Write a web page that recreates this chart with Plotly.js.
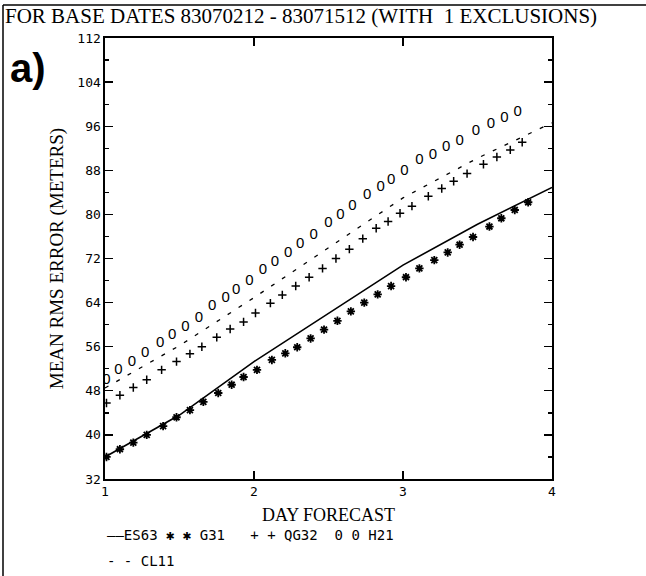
<!DOCTYPE html>
<html><head><meta charset="utf-8">
<script src="https://cdn.plot.ly/plotly-3.0.1.min.js"></script>
<style>body{margin:0;background:#fff}</style>
</head><body><div id="chart" style="width:646px;height:576px"></div>
<script>
const titleText = 'FOR BASE DATES 83070212 - 83071512 (WITH\u00a0 1 EXCLUSIONS)';
const panelLabel = 'a)';
const xTitle = 'DAY FORECAST';
const yTitle = 'MEAN RMS ERROR (METERS)';
const xTicks = [1, 2, 3, 4];
const yTicks = [32, 40, 48, 56, 64, 72, 80, 88, 96, 104, 112];

// ES63 (solid line)
const es63Days = [1, 1.5, 2, 2.5, 3, 3.5, 4];
const es63Err  = [36.0, 43.6, 53.3, 62.0, 70.8, 78.2, 84.9];
// CL11 (dashed line)
const cl11Days = [1, 1.5, 2, 2.5, 3, 3.5, 4];
const cl11Err  = [48.5, 56.2, 64.9, 74.0, 83.0, 90.2, 96.6];
// G31 (asterisk characters)
const g31Days = [1.01,1.10,1.19,1.28,1.39,1.48,1.57,1.66,1.76,1.85,1.93,2.02,2.12,2.21,2.29,2.38,2.47,2.56,2.65,2.74,2.83,2.92,3.02,3.11,3.21,3.30,3.38,3.47,3.58,3.66,3.75,3.84];
const g31Err  = [36.0,37.4,38.6,40.0,41.6,43.2,44.5,46.0,47.6,49.1,50.5,51.8,53.6,54.8,55.9,57.5,59.1,60.7,62.4,64.0,65.5,67.0,68.6,70.2,71.7,73.1,74.5,75.9,77.8,79.3,80.8,82.2];
// QG32 (plus characters)
const qg32Days = [1.01,1.10,1.19,1.28,1.38,1.48,1.57,1.65,1.75,1.84,1.93,2.01,2.11,2.19,2.28,2.37,2.46,2.55,2.64,2.73,2.82,2.90,2.98,3.06,3.17,3.26,3.34,3.43,3.54,3.63,3.72,3.80];
const qg32Err  = [45.8,47.2,48.6,50.0,51.8,53.3,54.7,56.0,57.7,59.2,60.5,62.1,63.9,65.4,67.0,68.6,70.2,72.0,73.7,75.6,77.5,78.7,80.2,81.5,83.3,84.7,86.0,87.4,89.1,90.4,91.7,93.1];
// H21 (zero characters)
const h21Days = [1.01,1.09,1.18,1.27,1.37,1.45,1.54,1.63,1.72,1.81,1.88,1.97,2.06,2.14,2.23,2.31,2.40,2.50,2.58,2.66,2.76,2.85,2.92,3.01,3.11,3.20,3.29,3.38,3.49,3.59,3.68,3.77];
const h21Err  = [50.0,51.7,53.1,54.8,56.6,58.0,59.6,61.2,63.3,64.8,66.3,67.8,69.9,71.4,73.0,74.6,76.2,78.4,79.9,81.4,83.5,84.9,86.2,87.8,89.9,90.8,92.1,93.3,95.0,96.4,97.4,98.6];

const legendLine1 = '——ES63 \u2731 \u2731 G31\u00a0\u00a0 + + QG32\u00a0 0 0 H21';
const legendLine2 = '- - CL11';

const traces = [
  {x: es63Days, y: es63Err, mode: 'lines', name: 'ES63', line: {color: '#000', width: 1.6}},
  {x: cl11Days, y: cl11Err, mode: 'lines', name: 'CL11', line: {color: '#000', width: 1.3, dash: '4px,9px'}},
  {x: g31Days, y: g31Err, mode: 'markers', name: 'G31',
   marker: {symbol: 'asterisk-open', size: 7, color: '#000', line: {color: '#000', width: 1.8}}},
  {x: qg32Days, y: qg32Err, mode: 'markers', name: 'QG32',
   marker: {symbol: 'cross-thin-open', size: 6, color: '#000', line: {color: '#000', width: 1.5}}},
  {x: h21Days, y: h21Err, mode: 'text', name: 'H21', text: h21Days.map(() => '0'),
   textposition: 'middle center', textfont: {family: 'Liberation Sans', size: 15, color: '#000'}}
];

const layout = {
  width: 646, height: 576,
  paper_bgcolor: '#fff', plot_bgcolor: '#fff',
  showlegend: false,
  margin: {l: 105, r: 94, t: 38, b: 97},
  title: {text: titleText, x: 5/646, xanchor: 'left', xref: 'container', yref: 'container',
          y: 1 - 16/576, yanchor: 'middle',
          font: {family: 'Liberation Serif', size: 21, color: '#000'}},
  xaxis: {range: [1, 4], tickvals: xTicks, ticktext: xTicks.map(String),
          ticks: 'inside', ticklen: 8, tickwidth: 1.3, tickcolor: '#000',
          showline: true, mirror: 'ticks', linecolor: '#000', linewidth: 1.6,
          showgrid: false, zeroline: false,
          tickfont: {family: 'DejaVu Sans Mono', size: 13, color: '#000'},
          title: {text: xTitle, standoff: 10, font: {family: 'Liberation Serif', size: 18, color: '#000'}}},
  yaxis: {range: [32, 112], tickvals: yTicks, ticktext: yTicks.map(String),
          ticks: 'inside', ticklen: 8, tickwidth: 1.3, tickcolor: '#000',
          minor: {ticks: 'inside', dtick: 4, ticklen: 4, tickcolor: '#000'},
          showline: true, mirror: 'ticks', linecolor: '#000', linewidth: 1.6,
          showgrid: false, zeroline: false,
          tickfont: {family: 'DejaVu Sans Mono', size: 13, color: '#000'},
          title: {text: yTitle, standoff: 8, font: {family: 'Liberation Serif', size: 19, color: '#000'}}},
  annotations: [
    {text: '<b>' + panelLabel + '</b>', xref: 'paper', yref: 'paper', x: -105/447 + 8/447, y: 1 + (38-68)/441,
     xanchor: 'left', yanchor: 'middle', showarrow: false,
     font: {family: 'Liberation Sans', size: 40, color: '#000'}},
    {text: legendLine1, xref: 'paper', yref: 'paper', x: 0, y: -(535-479)/441,
     xanchor: 'left', yanchor: 'middle', showarrow: false,
     font: {family: 'DejaVu Sans Mono', size: 14, color: '#000'}},
    {text: legendLine2, xref: 'paper', yref: 'paper', x: 0, y: -(561-479)/441,
     xanchor: 'left', yanchor: 'middle', showarrow: false,
     font: {family: 'DejaVu Sans Mono', size: 14, color: '#000'}}
  ],
  shapes: [
    {type: 'line', xref: 'paper', yref: 'paper', x0: -102/447, x1: -102/447, y0: 1 + 33/441, y1: -97/441,
     line: {color: '#000', width: 1.5}},
    {type: 'line', xref: 'paper', yref: 'paper', x0: -102/447, x1: 1 + 94/447, y0: 1 + 33/441, y1: 1 + 33/441,
     line: {color: '#000', width: 1.5}}
  ]
};

Plotly.newPlot('chart', traces, layout, {staticPlot: true, displayModeBar: false});
</script></body></html>
